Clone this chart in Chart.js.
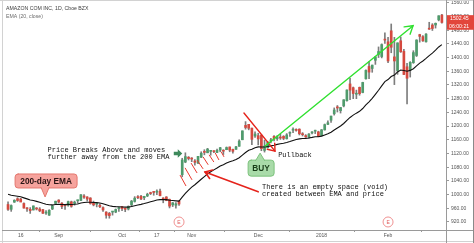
<!DOCTYPE html>
<html><head><meta charset="utf-8">
<script src="https://cdn.jsdelivr.net/npm/chart.js@4/dist/chart.umd.min.js"></script>
<style>html,body{margin:0;padding:0;background:#fff;overflow:hidden}#wrap{position:relative;width:474px;height:243px}canvas{display:block}</style>
</head><body><div id="wrap"><canvas id="c" width="474" height="243"></canvas></div>
<script>
const title = 'AMAZON COM INC, 1D, Cboe BZX';
const studyLabel = 'EMA (20, close)';
const tradingDays = {
  '2017-08': [10,11,14,15,16,17,18,21,22,23,24,25,28,29,30,31],
  '2017-09': [1,5,6,7,8,11,12,13,14,15,18,19,20,21,22,25,26,27,28,29],
  '2017-10': [2,3,4,5,6,9,10,11,12,13,16,17,18,19,20,23,24,25,26,27,30,31],
  '2017-11': [1,2,3,6,7,8,9,10,13,14,15,16,17,20,21,22,24,27,28,29,30],
  '2017-12': [1,4,5,6,7,8,11,12,13,14,15,18,19,20,21,22,26,27,28,29],
  '2018-01': [2,3,4,5,8,9,10,11,12,16,17,18,19,22,23,24,25,26,29,30,31],
  '2018-02': [1,2,5,6,7,8,9,12,13,14,15,16,20,21,22,23,26,27]
};
const dates = Object.entries(tradingDays).flatMap(([m, ds]) => ds.map(d => m + '-' + String(d).padStart(2, '0')));

const open = [971,957,978,988,987,974,959,957,955,959,958,956,946,940,958,974,
 984,975,968,969,979,974,982,983,996,993,990,976,972,969,962,949,945,949,949,959,
 965,958,958,970,980,993,995,991,996,1004,1008,1007,1010,990,993,986,970,969,981,1058,1095,1109,
 1106,1098,1092,1109,1125,1122,1126,1126,1123,1130,1127,1131,1139,1132,1132,1141,1160,1202,1205,1194,1171,
 1172,1173,1129,1137,1156,1170,1163,1167,1170,1163,1179,1188,1189,1191,1177,1172,1168,1180,1185,1183,
 1172,1189,1205,1217,1236,1256,1245,1259,1274,1323,1312,1293,1313,1298,1338,1374,1368,1392,1409,1403,1451,
 1446,1478,1402,1362,1449,1418,1373,1364,1385,1406,1467,1461,1446,1485,1495,1495,1510,1524];
const high = [979,970,985,991,989,976,962,962,967,962,962,957,953,956,969,981,
 985,977,970,981,981,981,984,1000,1000,994,991,981,975,973,964,950,948,951,958,963,
 966,960,967,983,994,997,998,995,1004,1007,1009,1014,1016,991,994,987,977,977,982,1106,1122,1111,
 1108,1102,1112,1125,1131,1135,1129,1128,1133,1138,1131,1139,1139,1133,1141,1160,1186,1213,1205,1194,1183,
 1179,1175,1159,1155,1164,1172,1172,1176,1172,1178,1183,1195,1192,1192,1181,1175,1178,1184,1188,1185,
 1190,1206,1215,1229,1253,1260,1254,1277,1306,1339,1314,1305,1314,1328,1364,1388,1378,1402,1431,1440,1472,
 1459,1498,1459,1443,1460,1424,1383,1388,1420,1452,1468,1464,1470,1503,1499,1501,1522,1526];
const low = [954,951,977,980,979,960,951,945,955,955,950,945,942,939,956,972,
 976,959,957,966,963,969,975,982,989,981,972,967,964,962,951,931,931,940,947,951,
 953,950,955,965,978,988,985,985,994,1000,998,1000,996,976,982,961,965,960,968,1052,1093,1101,
 1096,1086,1090,1108,1116,1122,1115,1122,1122,1125,1117,1131,1125,1121,1132,1141,1160,1191,1189,1146,1167,
 1145,1128,1124,1136,1151,1157,1158,1161,1160,1162,1170,1181,1185,1174,1171,1167,1165,1177,1178,1169,
 1171,1188,1204,1211,1232,1241,1238,1256,1273,1277,1280,1280,1290,1297,1337,1338,1357,1380,1400,1399,1441,
 1385,1414,1321,1351,1415,1350,1265,1343,1383,1403,1445,1447,1445,1482,1479,1486,1507,1500];
const close = [956.9,968.0,983.3,982.7,978.2,960.6,958.5,953.3,966.9,958.0,952.5,945.3,946.0,954.1,967.6,980.6,
 978.3,965.3,967.8,979.5,965.9,978.0,982.6,999.6,992.2,986.8,974.2,969.9,973.2,964.7,955.1,939.8,938.6,950.9,956.4,961.4,
 959.2,957.1,965.5,980.9,989.6,991.0,987.2,995.0,1000.9,1002.9,1006.3,1009.1,997.0,986.6,982.9,966.3,975.9,972.9,972.4,1101.0,1110.9,1105.3,
 1103.7,1094.2,1111.6,1120.7,1123.2,1132.9,1129.1,1125.4,1129.2,1136.8,1126.7,1137.3,1129.9,1126.3,1139.5,1156.2,1186.0,1195.8,1193.6,1161.3,1176.8,
 1162.4,1134.0,1141.6,1152.4,1159.8,1162.0,1168.9,1165.1,1164.1,1174.3,1179.1,1190.6,1187.4,1177.6,1174.8,1168.4,1176.8,1182.3,1186.1,1169.5,
 1189.0,1204.2,1209.6,1229.1,1246.9,1252.7,1254.3,1276.7,1305.2,1304.9,1295.0,1293.3,1294.6,1327.3,1362.5,1357.5,1378.0,1402.1,1417.7,1437.8,1450.9,
 1390.0,1430.0,1390.0,1442.8,1416.8,1350.5,1339.6,1386.2,1414.5,1451.1,1461.8,1448.7,1468.4,1482.9,1484.8,1500.0,1522.0,1502.45];
const ema20 = [1001.0,997.9,996.5,995.2,993.6,990.4,987.4,984.1,982.5,980.2,977.5,974.4,971.7,970.1,969.8,970.9,
 971.6,971.0,970.7,971.5,971.0,971.6,972.7,975.2,976.9,977.8,977.5,976.7,976.4,975.3,973.4,970.2,967.2,965.6,964.7,964.4,
 963.9,963.3,963.5,965.2,967.5,969.7,971.4,973.7,976.3,978.8,981.4,984.1,985.3,985.4,985.2,983.4,982.7,981.7,980.8,992.3,1003.6,1013.3,
 1021.9,1028.8,1036.7,1044.7,1052.2,1059.9,1066.5,1072.1,1077.5,1083.2,1087.3,1092.1,1095.7,1098.6,1102.5,1107.6,1115.1,1122.8,1129.5,1132.5,1136.7,
 1139.2,1138.7,1139.0,1140.3,1142.2,1144.1,1146.5,1148.3,1149.8,1152.1,1154.7,1158.1,1160.9,1162.5,1163.7,1164.1,1165.3,1166.9,1168.8,1168.8,
 1170.7,1173.9,1177.3,1182.2,1188.4,1194.5,1200.2,1207.5,1216.8,1225.2,1231.9,1237.7,1243.1,1251.2,1261.8,1270.9,1281.1,1292.6,1304.5,1317.2,1329.9,
 1335.7,1344.6,1349.0,1357.9,1363.5,1362.3,1360.1,1362.6,1367.5,1375.5,1383.7,1389.9,1397.4,1405.5,1413.1,1421.4,1430.9,1437.8];

const xTickDates = ['2017-08-16','2017-09-01','2017-10-02','2017-10-17','2017-11-01','2017-12-01','2018-01-02','2018-02-01'];
const xTickTexts = ['16','Sep','Oct','17','Nov','Dec','2018','Feb'];
const yTicks = [920,960,1000,1040,1080,1120,1160,1200,1240,1280,1320,1360,1400,1440,1480,1520,1560];
const earningsDates = ['2017-10-26','2018-02-01'];
const lastPriceText = '1502.45';
const countdownText = '06:00:21';

// annotations in data coordinates (bar index, price)
const calloutEMA = {text: '200-day EMA', i: 11.7, p: 993};
const calloutBUY = {text: 'BUY', i: 79.6, p: 1121};
const noteBreak = {lines: ['Price Breaks Above and moves', 'further away from the 200 EMA'], i: 12.5, p: 1130};
const noteVoid = {lines: ['There is an empty space (void)', 'created between EMA and price'], i: 80.2, p: 1021};
const notePull = {text: 'Pullback', i: 85.3, p: 1116};
const blockArrow = {i: 53.6, p: 1120};
const hatch = [[54.3,1057,56.2,1025],[55.9,1078,58.1,1043],[57.8,1092,59.7,1063],[59.7,1101,61.6,1075],
  [61.6,1110,63.2,1087],[63.5,1116,65.0,1095],[65.4,1122,66.6,1101],[67.3,1125,68.2,1110]];
const arrowVoid = [79.0, 1008, 62.2, 1066];
const arrowPull = [74.5, 1238, 84.3, 1127];
const arrowTrend = [81.2, 1142, 127.9, 1493];

const UP = '#4f9b6c', DOWN = '#d5493f', WICK = '#7d7d7d';
const idx = dates.map((d, i) => i);
const bodyColors = idx.map(i => close[i] >= open[i] ? UP : DOWN);

const annot = {
  id: 'annot',
  afterDatasetsDraw(chart) {
    const ctx = chart.ctx, X = v => chart.scales.x.getPixelForValue(v), Y = v => chart.scales.y.getPixelForValue(v);
    const ca = chart.chartArea;
    ctx.save();
    // frame
    ctx.lineWidth = 1;
    ctx.strokeStyle = '#d2d2d2';
    ctx.beginPath(); ctx.moveTo(0, 0.5); ctx.lineTo(474, 0.5); ctx.stroke();
    ctx.beginPath(); ctx.moveTo(2.5, 0); ctx.lineTo(2.5, 243); ctx.stroke();
    ctx.beginPath(); ctx.moveTo(0, 241.5); ctx.lineTo(474, 241.5); ctx.stroke();
    ctx.strokeStyle = '#9a9a9a';
    ctx.beginPath(); ctx.moveTo(2, Math.round(ca.bottom) + 0.5); ctx.lineTo(474, Math.round(ca.bottom) + 0.5); ctx.stroke();
    ctx.beginPath(); ctx.moveTo(Math.round(ca.right) + 0.5, 0); ctx.lineTo(Math.round(ca.right) + 0.5, 243); ctx.stroke();
    ctx.strokeStyle = '#8a8a8a';
    ctx.beginPath(); ctx.moveTo(473.5, 0); ctx.lineTo(473.5, 243); ctx.stroke();

    // header
    ctx.textBaseline = 'middle'; ctx.textAlign = 'left';
    ctx.font = '5.2px "Liberation Sans"'; ctx.fillStyle = '#3c3c3c';
    ctx.fillText(title, 6, 8.5);
    ctx.fillStyle = '#6e6e6e';
    ctx.fillText(studyLabel, 6, 16.5);

    // earnings markers
    earningsDates.forEach(d => {
      const x = X(dates.indexOf(d)), y = Y(920);
      ctx.beginPath(); ctx.arc(x, y, 5, 0, Math.PI * 2);
      ctx.fillStyle = '#fff'; ctx.fill();
      ctx.strokeStyle = '#ef9090'; ctx.lineWidth = 1; ctx.stroke();
      ctx.fillStyle = '#e05a5a'; ctx.font = '5px "Liberation Sans"'; ctx.textAlign = 'center';
      ctx.fillText('E', x, y + 0.3);
    });

    // hatch lines
    ctx.strokeStyle = '#e8392f'; ctx.lineWidth = 1;
    hatch.forEach(h => { ctx.beginPath(); ctx.moveTo(X(h[0]), Y(h[1])); ctx.lineTo(X(h[2]), Y(h[3])); ctx.stroke(); });

    function arrow(a, color, lw, head, ang) {
      const x0 = X(a[0]), y0 = Y(a[1]), x1 = X(a[2]), y1 = Y(a[3]);
      ctx.strokeStyle = color; ctx.lineWidth = lw; ctx.lineCap = 'round';
      ctx.beginPath(); ctx.moveTo(x0, y0); ctx.lineTo(x1, y1); ctx.stroke();
      const t = Math.atan2(y1 - y0, x1 - x0);
      ctx.beginPath();
      ctx.moveTo(x1 - head * Math.cos(t - ang), y1 - head * Math.sin(t - ang));
      ctx.lineTo(x1, y1);
      ctx.lineTo(x1 - head * Math.cos(t + ang), y1 - head * Math.sin(t + ang));
      ctx.stroke();
    }
    arrow(arrowVoid, '#e5231b', 1.6, 8, 0.6);
    arrow(arrowPull, '#e5231b', 1.4, 8, 0.65);
    arrow(arrowTrend, '#2fe02f', 1.4, 9, 0.55);

    // block arrow
    {
      const x = X(blockArrow.i), y = Y(blockArrow.p);
      ctx.fillStyle = '#3e8a5c';
      ctx.beginPath();
      ctx.moveTo(x - 4, y - 1.8); ctx.lineTo(x, y - 1.8); ctx.lineTo(x, y - 4.2); ctx.lineTo(x + 4.5, y);
      ctx.lineTo(x, y + 4.2); ctx.lineTo(x, y + 1.8); ctx.lineTo(x - 4, y + 1.8); ctx.closePath(); ctx.fill();
    }

    // mono notes
    ctx.font = '7px "Liberation Mono"'; ctx.fillStyle = '#111'; ctx.textAlign = 'left';
    noteBreak.lines.forEach((l, k) => ctx.fillText(l, X(noteBreak.i), Y(noteBreak.p) + k * 7));
    noteVoid.lines.forEach((l, k) => ctx.fillText(l, X(noteVoid.i), Y(noteVoid.p) + k * 7));
    ctx.fillText(notePull.text, X(notePull.i), Y(notePull.p));

    function rr(x, y, w, h, r) {
      ctx.beginPath();
      ctx.moveTo(x + r, y); ctx.lineTo(x + w - r, y); ctx.quadraticCurveTo(x + w, y, x + w, y + r);
      ctx.lineTo(x + w, y + h - r); ctx.quadraticCurveTo(x + w, y + h, x + w - r, y + h);
      ctx.lineTo(x + r, y + h); ctx.quadraticCurveTo(x, y + h, x, y + h - r);
      ctx.lineTo(x, y + r); ctx.quadraticCurveTo(x, y, x + r, y); ctx.closePath();
    }
    // 200-day EMA callout (pointer down)
    {
      const tx = X(calloutEMA.i), ty = Y(calloutEMA.p);
      const bx = tx - 30, bw = 62, bh = 14, by = ty - 9 - bh;
      ctx.fillStyle = '#f6a39d'; ctx.strokeStyle = '#e4786f'; ctx.lineWidth = 1;
      rr(bx, by, bw, bh, 3); ctx.fill(); ctx.stroke();
      ctx.beginPath(); ctx.moveTo(tx - 4, by + bh - 0.5); ctx.lineTo(tx, ty); ctx.lineTo(tx + 4, by + bh - 0.5);
      ctx.fill(); ctx.stroke();
      ctx.fillRect(tx - 3.4, by + bh - 2, 6.8, 2);
      ctx.fillStyle = '#2a1515'; ctx.font = 'bold 8.3px "Liberation Sans"'; ctx.textAlign = 'center';
      ctx.fillText(calloutEMA.text, bx + bw / 2, by + bh / 2 + 0.5);
    }
    // BUY callout (pointer up)
    {
      const tx = X(calloutBUY.i), ty = Y(calloutBUY.p);
      const bx = tx - 12, bw = 26, bh = 16, by = ty + 7;
      ctx.fillStyle = '#a9dba9'; ctx.strokeStyle = '#7cc27c'; ctx.lineWidth = 1;
      rr(bx, by, bw, bh, 3); ctx.fill(); ctx.stroke();
      ctx.beginPath(); ctx.moveTo(tx - 4.5, by + 0.5); ctx.lineTo(tx, ty); ctx.lineTo(tx + 4.5, by + 0.5);
      ctx.fill(); ctx.stroke();
      ctx.fillRect(tx - 4, by, 8, 2);
      ctx.fillStyle = '#183d18'; ctx.font = 'bold 8.3px "Liberation Sans"'; ctx.textAlign = 'center';
      ctx.fillText(calloutBUY.text, bx + bw / 2, by + bh / 2 + 0.5);
    }

    // last price label
    {
      const y = Y(close[close.length - 1]);
      ctx.fillStyle = '#e2463b';
      ctx.fillRect(ca.right + 1, y - 7.3, 474 - ca.right - 1, 14.6);
      ctx.fillStyle = '#fff'; ctx.font = '5.2px "Liberation Sans"'; ctx.textAlign = 'left';
      ctx.fillText(lastPriceText, ca.right + 4, y - 3.4);
      ctx.fillText(countdownText, ca.right + 3, y + 3.8);
    }
    ctx.restore();
  }
};

new Chart(document.getElementById('c'), {
  type: 'bar',
  data: {
    datasets: [
      {type: 'line', label: 'EMA', data: idx.map(i => ({x: i, y: ema20[i]})), borderColor: '#111', borderWidth: 1.1,
       pointRadius: 0, tension: 0, order: 0},
      {label: 'body', data: idx.map(i => ({x: i, y: [open[i], close[i]]})), backgroundColor: bodyColors,
       barThickness: 2, grouped: false, minBarLength: 1, order: 1},
      {label: 'wick', data: idx.map(i => ({x: i, y: [low[i], high[i]]})), backgroundColor: WICK,
       barThickness: 1, grouped: false, order: 2}
    ]
  },
  options: {
    responsive: false, animation: false, devicePixelRatio: 1,
    layout: {padding: {left: 3, right: 0, top: 0, bottom: 0}},
    plugins: {legend: {display: false}, tooltip: {enabled: false}},
    scales: {
      x: {
        type: 'linear', position: 'bottom', min: -1.59, max: 138.3, offset: false,
        afterBuildTicks: s => { s.ticks = xTickDates.map(d => ({value: dates.indexOf(d)})); },
        afterFit: s => { s.height = 13; s.paddingLeft = 0; s.paddingRight = 0; },
        ticks: {autoSkip: false, maxRotation: 0, padding: 1, color: '#555', font: {size: 5, family: 'Liberation Sans'},
          callback: v => xTickTexts[xTickDates.indexOf(dates[v])]},
        grid: {drawOnChartArea: false, drawTicks: true, tickLength: 2, color: '#9a9a9a'},
        border: {display: true, color: '#9a9a9a'}
      },
      y: {
        position: 'right', min: 896.6, max: 1568,
        afterBuildTicks: s => { s.ticks = yTicks.map(v => ({value: v})); },
        afterFit: s => { s.width = 28; s.paddingTop = 0; s.paddingBottom = 0; },
        ticks: {padding: 2, color: '#555', font: {size: 5, family: 'Liberation Sans'}, callback: v => Number(v).toFixed(2)},
        grid: {drawOnChartArea: false, drawTicks: true, tickLength: 3, color: '#9a9a9a'},
        border: {display: true, color: '#9a9a9a'}
      }
    }
  },
  plugins: [annot]
});
</script>
</body></html>
